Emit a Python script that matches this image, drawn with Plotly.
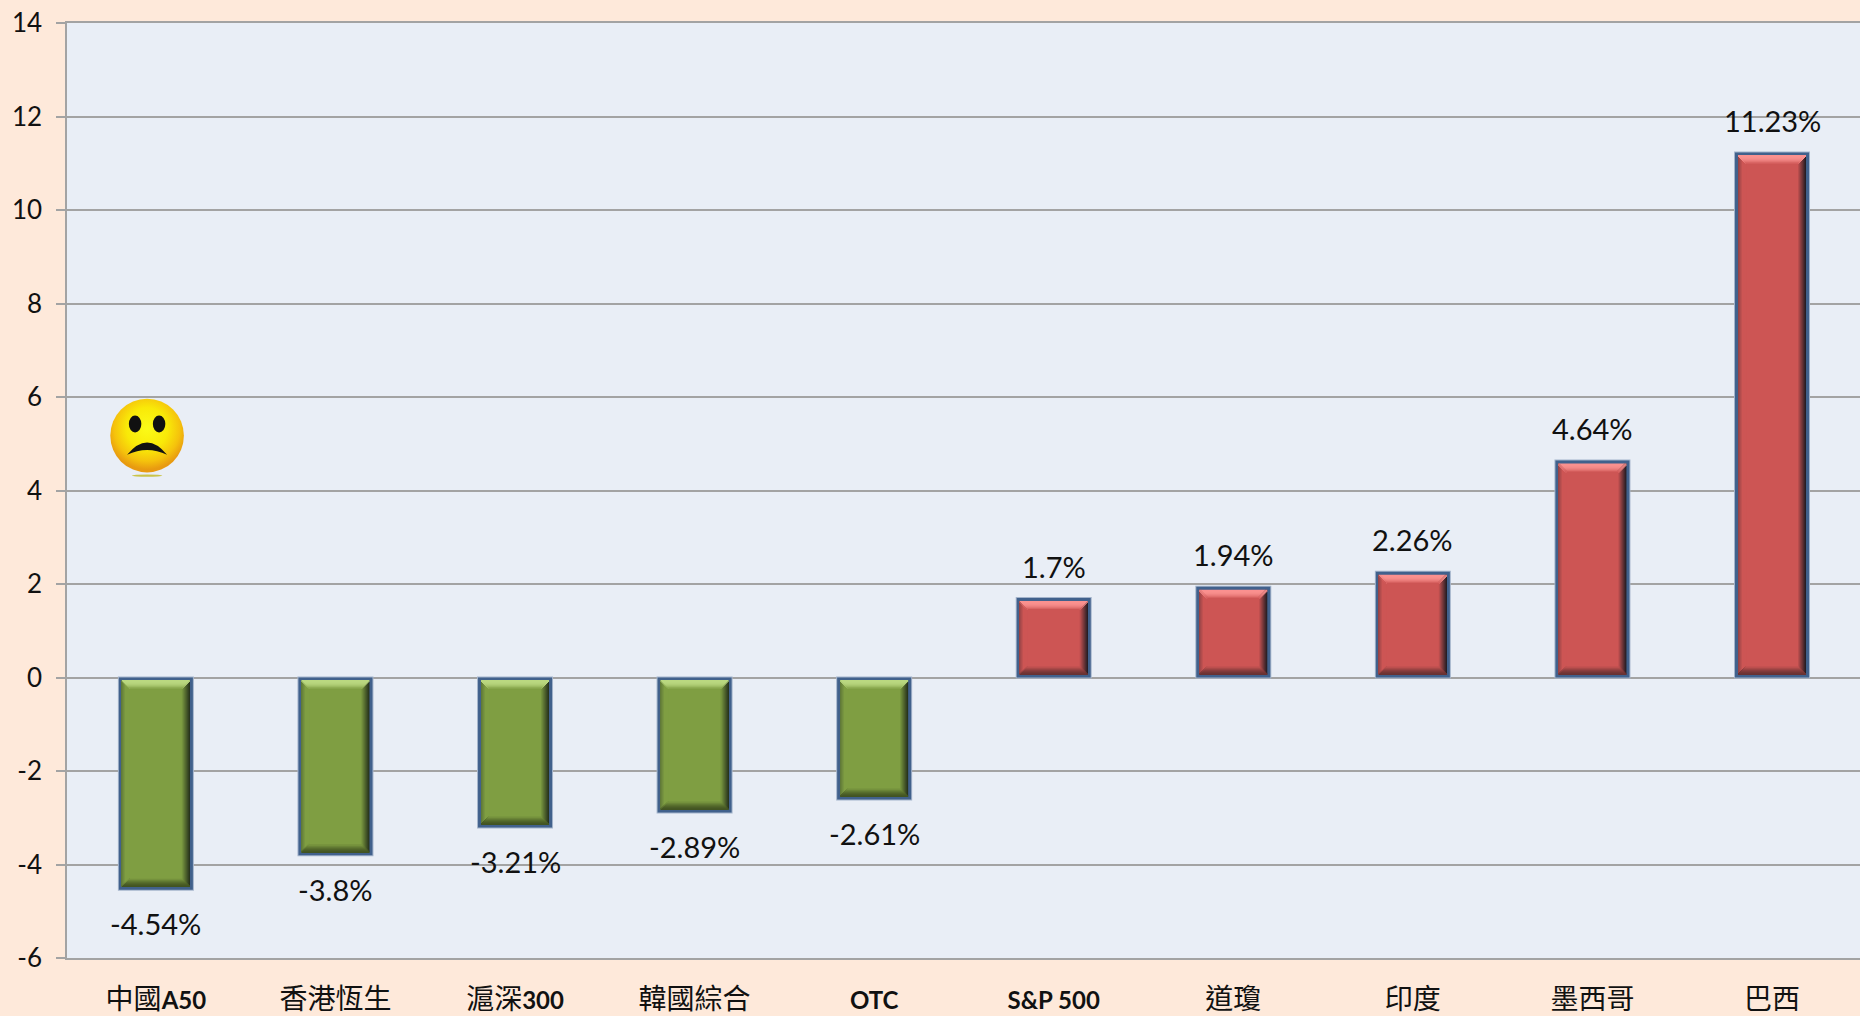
import plotly.graph_objects as go
import base64

LATIN = "<span style='font-size:24px'><b>%s</b></span>"
categories = ["中國" + LATIN % "A50", "香港恆生", "滬深" + LATIN % "300", "韓國綜合", LATIN % "OTC",
              LATIN % "S&P 500", "道瓊", "印度", "墨西哥", "巴西"]
values = [-4.54, -3.8, -3.21, -2.89, -2.61, 1.7, 1.94, 2.26, 4.64, 11.23]
y_ticks = [-6, -4, -2, 0, 2, 4, 6, 8, 10, 12, 14]

W, H = 1860, 1016
ML, MR, MT, MB = 67, 0, 23, 58
X_RANGE = [-0.495, 9.49]
PX_X = (W - ML - MR) / (X_RANGE[1] - X_RANGE[0])
PX_Y = (H - MT - MB) / 20
BAR_PX = 74
BORDER = 3
RINGS = 8

STYLE = {
    "red": dict(main=(205, 85, 84), top=(250, 145, 143), bottom=(105, 50, 50), left=(150, 68, 70), right=(40, 30, 36)),
    "green": dict(main=(127, 158, 66), top=(186, 216, 128), bottom=(66, 84, 34), left=(96, 122, 56), right=(40, 52, 28)),
}

def style_of(v):
    return STYLE["green" if v < 0 else "red"]

def shade(v, side, ring, depth=RINGS, power=1.0):
    s = style_of(v)
    t = min(ring / depth, 1) ** power
    return "rgb(%d,%d,%d)" % tuple(round(s[side][k] + (s["main"][k] - s[side][k]) * t) for k in range(3))

def add_rect(fig, side, inset, colors):
    """Draw, for every bar, the one-pixel strip of a bevel ring along a side (or the whole face)."""
    xs, ws, bases, heights = [], [], [], []
    for i, v in enumerate(values):
        hi, lo = max(v, 0), min(v, 0)
        left_px, right_px = -BAR_PX / 2 + inset, BAR_PX / 2 - inset
        top, bot = hi - inset / PX_Y, lo + inset / PX_Y
        step = 1.5
        if side == "left":
            right_px = left_px + step
        elif side == "right":
            left_px = right_px - step
        elif side == "top":
            bot = top - step / PX_Y
        elif side == "bottom":
            top = bot + step / PX_Y
        xs.append(i + (left_px + right_px) / 2 / PX_X)
        ws.append((right_px - left_px) / PX_X)
        bases.append(bot)
        heights.append(top - bot)
    fig.add_bar(x=xs, y=heights, base=bases, width=ws, marker=dict(color=colors, line=dict(width=0)),
                showlegend=False, hoverinfo="skip")

fig = go.Figure()
add_rect(fig, "face", -1, ["#a4b4cb"] * len(values))
add_rect(fig, "face", 0, ["#41618c"] * len(values))
for n in range(RINGS):
    inset = BORDER + n
    add_rect(fig, "right", inset, [shade(v, "right", n) for v in values])
    add_rect(fig, "left", inset, [shade(v, "left", n, 4) for v in values])
    add_rect(fig, "bottom", inset, [shade(v, "bottom", n, power=1.5) for v in values])
    add_rect(fig, "top", inset, [shade(v, "top", n, power=2.5) for v in values])
add_rect(fig, "face", BORDER + RINGS, [shade(v, "top", RINGS) for v in values])

for i, v in enumerate(values):
    fig.add_annotation(x=i, y=v, text=f"{v}%", showarrow=False, yanchor="middle",
                       yshift=32 if v > 0 else -34, font=dict(size=29, color="#111111"))

smiley = """<svg xmlns='http://www.w3.org/2000/svg' viewBox='0 0 100 100'>
<defs><radialGradient id='g' cx='50%' cy='40%' r='56%'>
<stop offset='0%' stop-color='#fbfb18'/><stop offset='50%' stop-color='#f9e908'/>
<stop offset='80%' stop-color='#f5c20c'/><stop offset='100%' stop-color='#e89a10'/></radialGradient></defs>
<ellipse cx='50' cy='98' rx='19' ry='1.5' fill='#c9c44a'/>
<circle cx='50' cy='48' r='46' fill='url(#g)'/>
<ellipse cx='35' cy='33.5' rx='7.8' ry='10.5' fill='#111'/>
<ellipse cx='65' cy='33.5' rx='7.8' ry='10.5' fill='#111'/>
<path d='M25 72 Q50 41 75 72 Q50 60 25 72 Z' fill='#111'/>
</svg>"""
src = "data:image/svg+xml;base64," + base64.b64encode(smiley.encode()).decode()
fig.add_layout_image(source=src, xref="x", yref="y", x=-0.049, y=5.14, sizex=80 / PX_X, sizey=80 / PX_Y,
                     xanchor="center", yanchor="middle", sizing="contain", layer="above")

FONT = "Lato, 'Noto Sans CJK TC', sans-serif"
AXIS = "#a3a3a3"
fig.update_layout(
    width=W, height=H, barmode="overlay", showlegend=False,
    margin=dict(l=ML, r=MR, t=MT, b=MB, pad=0, autoexpand=False),
    paper_bgcolor="#fee9da", plot_bgcolor="#e9eef6",
    font=dict(family=FONT, color="#111111"),
    xaxis=dict(range=X_RANGE, tickvals=list(range(len(categories))), ticktext=categories, ticks="",
               automargin=False, showgrid=False, zeroline=False, showline=True, mirror=True, linecolor=AXIS, linewidth=1.5,
               ticklabelstandoff=16, tickfont=dict(size=28, family=FONT, color="#111111"), fixedrange=True),
    yaxis=dict(range=[-6, 14], tickvals=y_ticks, ticktext=[str(t) for t in y_ticks], automargin=False,
               ticks="outside", ticklen=9, tickwidth=1.5, tickcolor=AXIS,
               showgrid=True, gridcolor=AXIS, gridwidth=1.5, zeroline=False,
               showline=True, linecolor=AXIS, linewidth=1.5, ticklabelstandoff=9,
               tickfont=dict(size=26, family=FONT, color="#111111"), fixedrange=True),
)
fig.write_html("out.html", config={"displayModeBar": False},
               post_script="document.body.style.margin='0';document.body.style.overflow='hidden';")
